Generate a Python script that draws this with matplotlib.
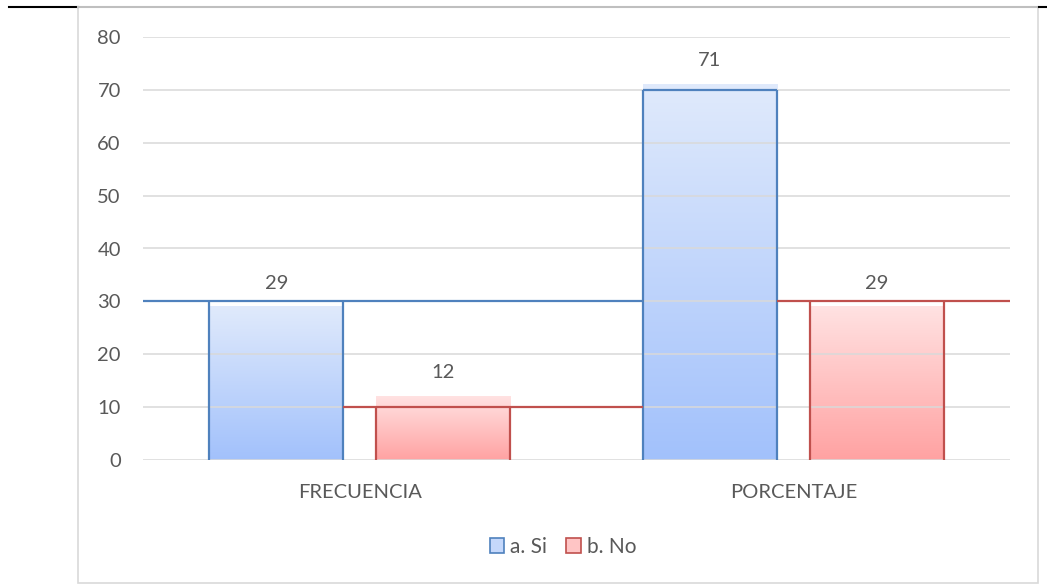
import numpy as np
import matplotlib
matplotlib.use("Agg")
import matplotlib.pyplot as plt
from matplotlib.patches import Patch, Rectangle
from matplotlib.lines import Line2D
from matplotlib.colors import LinearSegmentedColormap

# datos
categorias = ["FRECUENCIA", "PORCENTAJE"]
si = [29, 71]
no = [12, 29]
# niveles donde Excel dibujó el contorno de las barras
si_borde = [30, 70]
no_borde = [10, 30]
series = ["a. Si", "b. No"]

W, H = 1047, 585
fig = plt.figure(figsize=(W / 100, H / 100), dpi=100)
plt.rcParams["font.family"] = ["Lato", "DejaVu Sans"]

ax = fig.add_axes([143 / W, (H - 460) / H, 867 / W, (460 - 37) / H])
ax.set_xlim(-0.5, 1.5)
ax.set_ylim(0, 80)

gris = "#595959"
azul_borde = "#4f81bd"
rojo_borde = "#c0504d"
cmap_azul = LinearSegmentedColormap.from_list("az", ["#a2c1fb", "#e0eafc"])
cmap_rojo = LinearSegmentedColormap.from_list("ro", ["#ffa2a2", "#ffe2e2"])
grad = np.linspace(0, 1, 256).reshape(-1, 1)

ancho = 0.31
desp = 0.1925
x = np.arange(len(categorias))

# rejilla
for v in range(0, 90, 10):
    ax.axhline(v, color="#d9d9d9", lw=1.1, zorder=1)

for i in range(len(categorias)):
    for val, off, cmap in [(si[i], -desp, cmap_azul), (no[i], desp, cmap_rojo)]:
        x0 = x[i] + off - ancho / 2
        ax.imshow(grad, extent=[x0, x0 + ancho, 0, val], origin="lower",
                  aspect="auto", cmap=cmap, zorder=0.8)
        ax.annotate(str(val), (x[i] + off, val), xytext=(0, 17),
                    textcoords="offset points", ha="center", va="center",
                    fontsize=14.5, color=gris)

# contornos (como en el original)
lw = 1.6
izq_si = x - desp - ancho / 2
der_si = x - desp + ancho / 2
izq_no = x + desp - ancho / 2
der_no = x + desp + ancho / 2
for i in range(len(categorias)):
    ax.vlines([izq_si[i], der_si[i]], 0, si_borde[i], color=azul_borde, lw=lw, zorder=3)
    ax.vlines([izq_no[i], der_no[i]], 0, no_borde[i], color=rojo_borde, lw=lw, zorder=3)
ax.hlines(si_borde[0], -0.5, izq_si[1], color=azul_borde, lw=lw, zorder=3)
ax.hlines(si_borde[1], izq_si[1], der_si[1], color=azul_borde, lw=lw, zorder=3)
ax.hlines(no_borde[0], der_si[0], izq_si[1], color=rojo_borde, lw=lw, zorder=3)
ax.hlines(no_borde[1], der_si[1], 1.5, color=rojo_borde, lw=lw, zorder=3)

ax.set_yticks(range(0, 90, 10))
ax.set_xticks(x)
ax.set_xticklabels(categorias)
ax.tick_params(axis="y", length=0, pad=16, labelsize=14.5, labelcolor=gris)
ax.tick_params(axis="x", length=0, pad=17, labelsize=14.5, labelcolor=gris)
for s in ax.spines.values():
    s.set_visible(False)

handles = [Patch(facecolor="#c5d8fb", edgecolor=azul_borde, lw=1.2),
           Patch(facecolor="#ffc5c5", edgecolor=rojo_borde, lw=1.2)]
fig.legend(handles, series, loc="center", bbox_to_anchor=(563 / W, 1 - 547 / H),
           ncol=2, frameon=False, fontsize=15, labelcolor=gris,
           handlelength=0.7, handleheight=0.7, handletextpad=0.3, columnspacing=0.9)

# marco del gráfico y línea superior
fig.add_artist(Rectangle((78 / W, 1 - 583 / H), (1038 - 78) / W, (583 - 7) / H,
                         transform=fig.transFigure, fill=False,
                         edgecolor="#d9d9d9", lw=1.2))
fig.add_artist(Line2D([9 / W, 78 / W], [1 - 7 / H] * 2, color="black", lw=1.5))
fig.add_artist(Line2D([78 / W, 1038 / W], [1 - 7 / H] * 2, color="#bfbfbf", lw=1.5))
fig.add_artist(Line2D([1039 / W, 1.0], [1 - 7 / H] * 2, color="black", lw=1.5))

fig.savefig("out.png", dpi=100, facecolor="white")
